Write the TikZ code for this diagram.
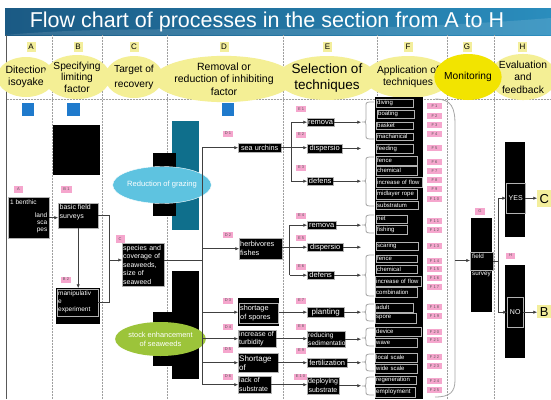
\documentclass[tikz,border=0pt]{standalone}
\usepackage{fontspec}
\setmainfont{Liberation Sans}
\usetikzlibrary{arrows.meta,shapes.geometric}

\definecolor{hdrY}{HTML}{F4EF95}
\definecolor{monY}{HTML}{F2E400}
\definecolor{letY}{HTML}{F3EE9C}
\definecolor{pinkL}{HTML}{F5A6CD}
\definecolor{blueSq}{HTML}{1F7ACC}
\definecolor{tealR}{HTML}{0F6F8C}
\definecolor{cyanE}{HTML}{5EC3E0}
\definecolor{greenE}{HTML}{9CC43A}
\definecolor{titleA}{HTML}{1B5A84}
\definecolor{titleB}{HTML}{2A8DBD}

\newcommand\fsz[2]{\fontsize{#1}{#2}\selectfont}
% bracket in front of a group of technique boxes: top, tip, bottom
\newcommand\fbrak[3]{\draw[brak] (374,#1) .. controls (366,#1) .. (366,#1+4) -- (366,#2-3)
  .. controls (366,#2) .. (362,#2) .. controls (366,#2) .. (366,#2+3) -- (366,#3-4)
  .. controls (366,#3) .. (374,#3);}

\tikzset{
  divider/.style={draw=gray!75, densely dotted, line width=0.5pt},
  hdr/.style={ellipse, fill=hdrY, inner sep=0pt, align=center, text=black},
  hdrletter/.style={fill=letY, minimum width=9, minimum height=10, inner sep=0pt, font=\fsz{8}{8}},
  pinktag/.style={fill=pinkL, text=black!65, inner sep=0pt, minimum width=10, minimum height=6, font=\fsz{4}{4}},
  blk/.style={draw=gray!60, fill=black, text=white, line width=0.4pt, inner sep=0.8pt, anchor=north west, align=left},
  solidblk/.style={fill=black, anchor=north west, inner sep=0pt},
  fitem/.style={blk, anchor=west, font=\fsz{6}{6}, inner ysep=0.3pt},
  conn/.style={draw=black!75, line width=0.5pt},
  arr/.style={conn, -{Latex[length=3.6pt,width=3.2pt]}},
  brak/.style={draw=gray!70, line width=0.8pt},
  toptext/.style={anchor=north west, inner sep=1.5pt, text=white, align=left},
}

\begin{document}
\begin{tikzpicture}[x=1pt,y=-1pt]
\useasboundingbox (0,0) rectangle (551,399);
\fill[white] (0,0) rectangle (551,399);

% title bar
\shade[left color=titleA, right color=titleB] (5,8) rectangle (551,35);
\fill[white, opacity=0.12] (5,35) .. controls (150,22) and (300,38) .. (551,18) -- (551,35) -- cycle;
\node[text=white, font=\fsz{21.5}{21.5}] (title) at (267,22) {Flow chart of processes in the section from A to H};

% frame and column dividers
\draw[black!65, line width=1.8pt] (6.5,35) -- (6.5,399);
\foreach \x in {52.7,102.6,166.9,282.9,377.7,447,494.4} \draw[divider] (\x,35) -- (\x,399);
\draw[divider] (6.5,99.5) -- (551,99.5);

% column headings
\node[hdrletter] (la) at (31,47) {A};
\node[hdrletter] (lb) at (78,47) {B};
\node[hdrletter] (lc) at (134,47) {C};
\node[hdrletter] (ld) at (224,47) {D};
\node[hdrletter] (le) at (327.5,47) {E};
\node[hdrletter] (lf) at (408,47) {F};
\node[hdrletter] (lg) at (467,47) {G};
\node[hdrletter] (lh) at (522.5,47) {H};

\node[hdr, minimum width=52, minimum height=40, font=\fsz{10.5}{12.5}] (ha) at (26,77) {Ditection\\isoyake};
\node[hdr, minimum width=50, minimum height=44, font=\fsz{10.2}{11.5}] (hb) at (77,77) {Specifying\\limiting\\factor};
\node[hdr, minimum width=58, minimum height=42, font=\fsz{10.2}{15}] (hc) at (134,77) {Target of\\recovery};
\node[hdr, minimum width=110, minimum height=42, font=\fsz{10.5}{12.5}] (hd) at (224,79) {Removal or\\reduction of inhibiting\\factor};
\node[hdr, minimum width=90, minimum height=44, font=\fsz{13.5}{16}] (he) at (327,78) {Selection of\\techniques};
\node[hdr, minimum width=70, minimum height=42, font=\fsz{10.3}{12}] (hf) at (408,77) {Application of\\techniques};
\node[hdr, minimum width=58, minimum height=46, font=\fsz{10.3}{12.5}] (hh) at (523,77) {Evaluation\\and\\feedback};
\node[hdr, fill=monY, minimum width=50, minimum height=46, font=\fsz{10.2}{12}] (hg) at (468,77) {Monitoring};

% blue markers
\fill[blueSq] (22,103) rectangle (34,116);
\fill[blueSq] (67,103) rectangle (80,116);
\fill[blueSq] (222,103) rectangle (234,116);

% column A
\node[pinktag, minimum width=9, minimum height=7] (ta) at (18.5,189.5) {A};
\node[blk, minimum width=41, minimum height=41] (benthic) at (8,197) {};
\node[anchor=north west, text=white, font=\fsz{6.5}{7}, inner sep=0pt] (benthicT) at (10,199.5) {1 benthic};
\node[anchor=north east, text=white, font=\fsz{6.5}{7}, inner sep=0pt, align=right] (benthicS) at (47.5,213) {land\\sca\\pes};

% column B
\fill[black] (53,125) rectangle (100,175);
\node[pinktag, minimum width=11, minimum height=7] (tb1) at (66.5,189.5) {B 1};
\node[blk, minimum width=40, minimum height=25,
  label={[toptext, font=\fsz{7}{9}]north west:{basic field\\surveys}}] (b1) at (58,203) {};
\node[pinktag] (tb2) at (66,279.5) {B 2};
\node[solidblk, minimum width=44, minimum height=36] (b2) at (56,288) {};
\node[blk, minimum width=41, minimum height=27, text width=39pt, font=\fsz{6.5}{8}] (b2t) at (57,288.5) {manipulativ\\e\\experiment};

\draw[arr] (benthic.east) -- (benthic.east -| b1.west);
\draw[arr] (b1.south) -- (b2.north);

% column C
\fill[tealR] (172,121) rectangle (199,230);
\fill[black] (153,153) rectangle (176,216);
\node[ellipse, fill=cyanE, draw=white, line width=0.4pt, minimum width=74, minimum height=37, inner sep=0pt,
  text=white, font=\fsz{7.6}{8}] (grazing) at (162,185) {Reduction of grazing};
\fill[black] (172,271) rectangle (199,379);
\fill[black] (153,312) rectangle (172,366);
\node[ellipse, fill=greenE, minimum width=71, minimum height=34, inner sep=0pt, align=center,
  text=white, font=\fsz{7.4}{9}] (stock) at (160.5,339) {stock enhancement\\of seaweeds};

\node[pinktag, minimum width=9, minimum height=8] (tc) at (120,239) {C};
\node[blk, minimum width=42, minimum height=43, text width=40pt, font=\fsz{7}{8.5}] (cbox) at (122,243)
  {species and\\coverage of\\seaweeds,\\size of\\seaweed};

\coordinate (jbc) at (109,260);
\draw[conn] (b1.east) -| (jbc);
\draw[conn] (b2t.east) -| (jbc);
\draw[arr] (jbc) -- (jbc -| cbox.west);

% column D
\node[pinktag] (td1) at (228,133.5) {D 1};
\node[pinktag] (td2) at (228,235) {D 2};
\node[pinktag] (td3) at (228,300.5) {D 3};
\node[pinktag] (td4) at (228,327) {D 4};
\node[pinktag] (td5) at (228,349.5) {D 5};
\node[pinktag] (td6) at (228,376.5) {D 6};

\node[blk, minimum width=43, minimum height=9, font=\fsz{7.3}{8}] (urchin) at (238,143) {sea urchins};
\node[blk, minimum width=43, minimum height=21, text width=41pt, font=\fsz{7.3}{8.7}] (herb) at (239,238) {herbivores\\fishes};
\node[solidblk, minimum width=41, minimum height=28] (sporesO) at (238,298) {};
\node[blk, minimum width=39, minimum height=20, text width=37pt, font=\fsz{7.3}{9}] (spores) at (239,303) {shortage\\of spores};
\node[blk, minimum width=38, minimum height=17, text width=36pt, font=\fsz{7}{8.5}] (turb) at (238,330) {increase of\\turbidity};
\node[blk, minimum width=40, minimum height=19, text width=38pt, font=\fsz{8}{9}] (shortof) at (238,353) {Shortage\\of};
\node[blk, minimum width=33, minimum height=17, text width=31pt, font=\fsz{7}{8.5}] (lack) at (238,376) {lack of\\substrate};

\coordinate (dbusT) at (202,148);
\coordinate (dbusB) at (202,384.5);
\draw[conn] (dbusT) -- (dbusB);
\draw[conn] (cbox.east |- jbc) -- (dbusT |- jbc);
\draw[arr] (dbusT |- urchin) -- (urchin.west);
\draw[arr] (dbusT |- herb) -- (herb.west);
\draw[arr] (dbusT |- sporesO) -- (sporesO.west);
\draw[arr] (dbusT |- turb) -- (turb.west);
\draw[arr] (dbusT |- shortof) -- (shortof.west);
\draw[arr] (dbusT |- lack) -- (lack.west);

% column E
\foreach \n/\y in {1/109,2/134.5,3/167.5,4/215.5,5/238,6/266.5,7/300.5,8/326.5,9/350.5}
  \node[pinktag] (te\n) at (301,\y) {E \n};
\node[pinktag, minimum width=13] (te10) at (300.5,376.5) {E 1 0};

\node[blk, minimum width=26, minimum height=8, font=\fsz{7.5}{8}, inner ysep=0.2pt] (rem1) at (307,118) {remova};
\node[blk, minimum width=35, minimum height=8.5, font=\fsz{7.5}{8}, inner ysep=0.2pt] (disp1) at (307,144) {dispersio};
\node[blk, minimum width=26, minimum height=8, font=\fsz{7.5}{8}, inner ysep=0.2pt] (def1) at (307,177) {defens};
\node[blk, minimum width=29, minimum height=8, font=\fsz{7.5}{8}, inner ysep=0.2pt] (rem2) at (307,221) {remova};
\node[blk, minimum width=36, minimum height=8, font=\fsz{7.5}{8}, inner ysep=0.2pt] (disp2) at (307,243) {dispersio};
\node[blk, minimum width=27, minimum height=8, font=\fsz{7.5}{8}, inner ysep=0.2pt] (def2) at (307,271) {defens};
\node[blk, minimum width=37, minimum height=10, font=\fsz{8}{8}] (planting) at (307,307) {planting};
\node[blk, minimum width=38, minimum height=16, text width=36pt, font=\fsz{6.6}{7.8}] (reduce) at (307,331) {reducing\\sedimentatio};
\node[blk, minimum width=40, minimum height=9, font=\fsz{7.5}{8}, inner ysep=0.2pt] (fert) at (307,358) {fertilization};
\node[blk, minimum width=31, minimum height=17, align=center, font=\fsz{7}{8.5}] (deploy) at (307,377) {deploying\\substrate};

\coordinate (ebus1) at (291,0);
\coordinate (ebus2) at (289.5,0);
\draw[arr] (urchin.east) -- (urchin.east -| disp1.west);
\draw[arr] (ebus1 |- def1) |- (rem1.west);
\draw[arr] (ebus1 |- def1) -- (def1.west);
\draw[arr] (herb.east |- disp2) -- (disp2.west);
\draw[arr] (ebus2 |- def2) |- (rem2.west);
\draw[arr] (ebus2 |- def2) -- (def2.west);
\draw[arr] (sporesO.east) -- (sporesO.east -| planting.west);
\draw[arr] (turb.east) -- (turb.east -| reduce.west);
\draw[arr] (shortof.east) -- (shortof.east -| fert.west);
\draw[arr] (lack.east) -- (lack.east -| deploy.west);

% column F
\fill[black] (375,97) rectangle (423,399);
\node[fitem, minimum width=37, minimum height=8, text width=35pt] (f1) at (376,103) {diving};
\node[fitem, minimum width=37, minimum height=8, text width=35pt] (f2) at (377,114) {boating};
\node[fitem, minimum width=37, minimum height=7.5, text width=35pt] (f3) at (376,125.5) {basket};
\node[fitem, minimum width=37, minimum height=7.5, text width=35pt] (f4) at (376,136.5) {machanical};
\node[fitem, minimum width=37, minimum height=9, text width=35pt] (f5) at (376,148.5) {feeding};
\node[fitem, minimum width=41, minimum height=9, text width=39pt] (f6) at (376,160.5) {fence};
\node[fitem, minimum width=41, minimum height=9, text width=39pt] (f7) at (376,170.5) {chemical};
\node[fitem, minimum width=46, minimum height=10, text width=44pt] (f8) at (376,182) {increase of flow};
\node[fitem, minimum width=41, minimum height=10, text width=39pt] (f9) at (376,194) {midlayer rope};
\node[fitem, minimum width=42, minimum height=8, text width=40pt] (f10) at (376,205) {substratum};
\node[fitem, minimum width=31, minimum height=8, text width=29pt] (f11) at (376,219) {net};
\node[fitem, minimum width=31, minimum height=9, text width=29pt] (f12) at (376,229.5) {fishing};
\node[fitem, minimum width=42, minimum height=8, text width=40pt] (f13) at (376,246) {scaring};
\node[fitem, minimum width=41, minimum height=7.5, text width=39pt] (f14) at (376,258.5) {fence};
\node[fitem, minimum width=41, minimum height=8, text width=39pt] (f15) at (376,269) {chemical};
\node[fitem, minimum width=46, minimum height=10, text width=44pt] (f16) at (375,281) {increase of flow};
\node[fitem, minimum width=42, minimum height=10, text width=40pt] (f17) at (375,292) {combination};
\node[fitem, minimum width=38, minimum height=9, text width=36pt] (f18) at (375,307.5) {adult};
\node[fitem, minimum width=41, minimum height=10, text width=39pt] (f19) at (375,318) {spore};
\node[fitem, minimum width=46, minimum height=9, text width=44pt] (f20) at (375,331.5) {device};
\node[fitem, minimum width=42, minimum height=9, text width=40pt] (f21) at (375,342.5) {wave};
\node[fitem, minimum width=42, minimum height=9, text width=40pt] (f22) at (375,357.5) {local scale};
\node[fitem, minimum width=42, minimum height=9, text width=40pt] (f23) at (375,368.5) {wide scale};
\node[fitem, minimum width=41, minimum height=8, text width=39pt] (f24) at (375,380) {regeneration};
\node[fitem, minimum width=40, minimum height=10, text width=38pt, font=\fsz{6.3}{6.3}] (f25) at (375,392) {employment};

\foreach \n/\y/\t in {1/106/F 1,2/115.7/F 2,3/125/F 3,4/134/F 4,5/148/F 5,6/161.7/F 6,7/170.7/F 7,
  8/180/F 8,9/189/F 9,10/199/F 1 0,11/220.7/F 1 1,12/230/F 1 2,13/246/F 1 3,14/261/F 1 4,
  15/269/F 1 5,16/278/F 1 6,17/287/F 1 7,18/306.7/F 1 8,19/316/F 1 9,20/331.7/F 2 0,
  21/340/F 2 1,22/356.7/F 2 2,23/365.7/F 2 3,24/380.7/F 2 4,25/390/F 2 5}
  \node[pinktag, minimum width=15] (tf\n) at (434.5,\y) {\t};

% brackets gathering the techniques
\fbrak{102}{122}{139}
\fbrak{157}{181}{206}
\fbrak{215}{225}{233}
\fbrak{255}{275}{296}
\fbrak{304}{312}{321}
\fbrak{328}{338}{346}
\fbrak{354}{362}{371}
\fbrak{377}{386}{395}

\coordinate (k1) at (361,122);
\coordinate (k2) at (361,148);
\coordinate (k3) at (361,181);
\coordinate (k4) at (361,225);
\coordinate (k5) at (361,247);
\coordinate (k6) at (361,275);
\coordinate (k7) at (361,312);
\coordinate (k8) at (361,338);
\coordinate (k9) at (361,362);
\coordinate (k10) at (361,386);
\draw[arr] (rem1.east) -- (rem1.east -| k1);
\draw[arr] (disp1.east) -- (disp1.east -| k2);
\draw[arr] (def1.east) -- (def1.east -| k3);
\draw[arr] (rem2.east) -- (rem2.east -| k4);
\draw[arr] (disp2.east) -- (disp2.east -| k5);
\draw[arr] (def2.east) -- (def2.east -| k6);
\draw[arr] (planting.east) -- (planting.east -| k7);
\draw[arr] (reduce.east) -- (reduce.east -| k8);
\draw[arr] (fert.east) -- (fert.east -| k9);
\draw[arr] (deploy.east) -- (deploy.east -| k10);

% large brace into monitoring
\draw[brak] (435,99) .. controls (452,99) and (455,108) .. (455,125) -- (455,380)
  .. controls (455,392) and (450,397) .. (435,397);
\coordinate (ftip) at (455,260.5);

% column G
\node[pinktag, minimum width=10, minimum height=7] (tg) at (480,211.5) {G};
\node[solidblk, minimum width=21, minimum height=94] (gcol) at (471,218) {};
\node[blk, minimum width=23, minimum height=18,
  label={[toptext, inner sep=2pt, font=\fsz{6.3}{6.3}]north west:field}] (field) at (470,252) {};
\node[anchor=north west, text=white, font=\fsz{6.3}{6.3}, inner sep=0pt] (survey) at (472,272) {survey};
\draw[arr] (ftip) -- (ftip -| field.west);

% column H
\node[pinktag, minimum width=9] (th) at (510.5,255.5) {H};
\node[solidblk, minimum width=20, minimum height=95] (hyes) at (505,142) {};
\node[blk, minimum width=19, minimum height=30, font=\fsz{7}{7}] (yes) at (506,183) {YES};
\node[solidblk, minimum width=20, minimum height=93] (hno) at (505,265) {};
\node[blk, minimum width=16, minimum height=30, font=\fsz{7}{7}] (no) at (507,297) {NO};
\node[fill=letY, anchor=north west, minimum width=14, minimum height=17, inner sep=0pt, font=\fsz{13}{13}] (toC) at (537,190) {C};
\node[fill=letY, anchor=north west, minimum width=14, minimum height=13, inner sep=0pt, font=\fsz{13}{13}] (toB) at (537,305) {B};

\coordinate (gh) at (498,0);
\draw[conn] (field.east) -- (field.east -| gh);
\draw[arr] (gh |- field.east) |- (yes.west);
\draw[arr] (gh |- field.east) |- (no.west);
\draw[arr] (yes.east) -- (yes.east -| toC.west);
\draw[arr] (no.east) -- (no.east -| toB.west);

\end{tikzpicture}
\end{document}
